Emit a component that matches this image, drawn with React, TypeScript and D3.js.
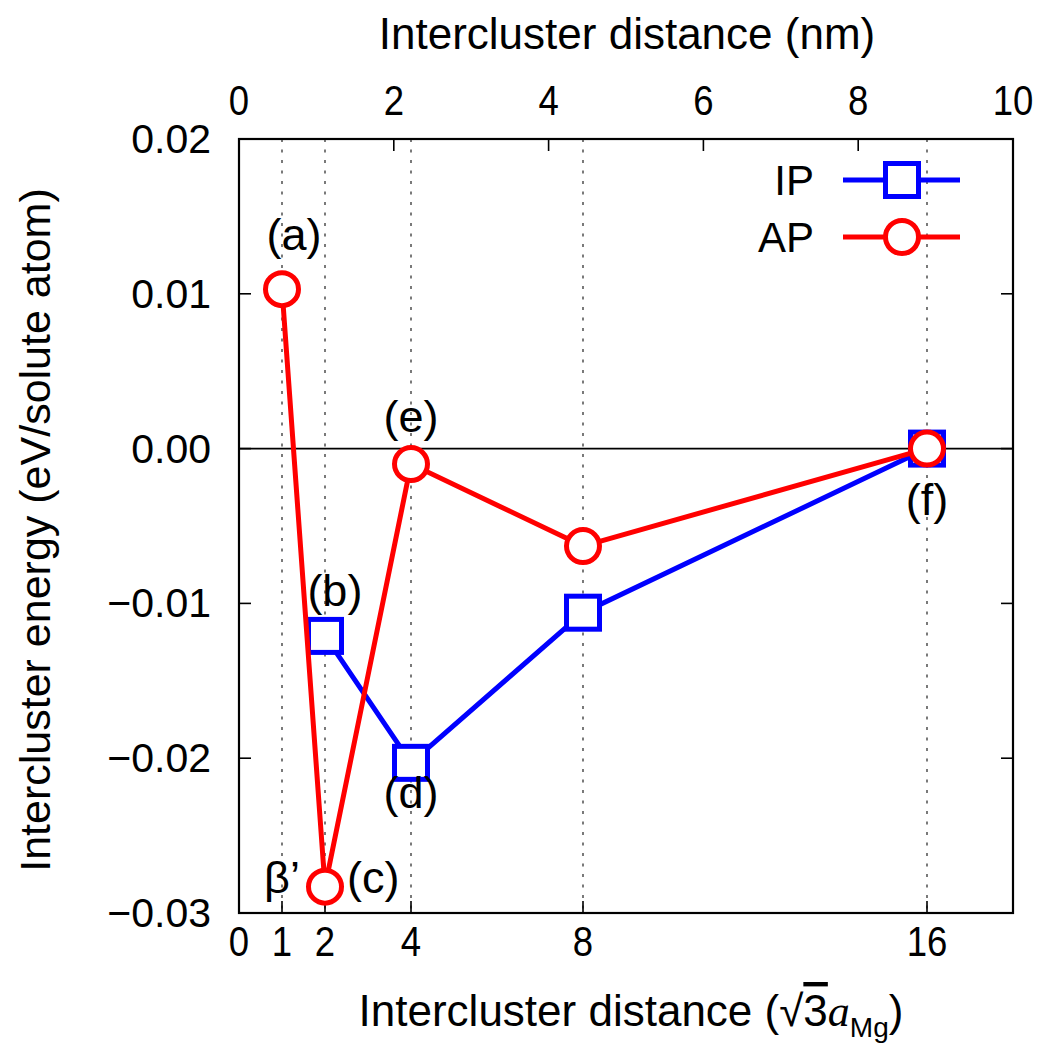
import React, { useEffect, useRef } from 'react';
import * as d3 from 'd3';

// x in units of sqrt(3)*a_Mg, y in eV/solute atom
const ipX = [2, 4, 8, 16];
const ipY = [-0.0121, -0.0203, -0.0106, 0.0];
const apX = [1, 2, 4, 8, 16];
const apY = [0.0103, -0.0283, -0.001, -0.0063, 0.0];

const bottomTicks = [0, 1, 2, 4, 8, 16];
const gridTicks = [1, 2, 4, 8, 16];
const topTicks = [0, 2, 4, 6, 8, 10];
const yTicks = [0.02, 0.01, 0.0, -0.01, -0.02, -0.03];
const yTickLabels = ['0.02', '0.01', '0.00', '\u22120.01', '\u22120.02', '\u22120.03'];

// point annotations, placed at data coordinates (text centre, baseline)
const annoText = ['(a)', '(b)', '(c)', '\u03b2\u2019', '(d)', '(e)', '(f)'];
const annoX = [1.28, 2.23, 3.12, 1.0, 4.0, 4.0, 16.0];
const annoY = [0.0128, -0.0102, -0.0287, -0.0287, -0.0232, 0.0011, -0.0043];

const FONT = '"Liberation Sans", Arial, Helvetica, sans-serif';

const App = () => {
  const ref = useRef(null);

  useEffect(() => {
    draw();
  }, []);

  function draw() {
    const svg = d3.select(ref.current);
    svg.selectAll('*').remove();

    const left = 239, right = 1013, top = 139, bottom = 913;
    const x = d3.scaleLinear().domain([0, 18]).range([left, right]);
    const xTop = d3.scaleLinear().domain([0, 10]).range([left, right]);
    const y = d3.scaleLinear().domain([-0.03, 0.02]).range([bottom, top]);
    const tick = 12;

    // dotted verticals
    svg.append('g').selectAll('line')
      .data(gridTicks)
      .enter()
      .append('line')
      .attr('x1', d => x(d)).attr('x2', d => x(d))
      .attr('y1', top).attr('y2', bottom)
      .attr('stroke', '#333')
      .attr('stroke-width', 1.3)
      .attr('stroke-dasharray', '3,7.5');

    // zero line
    svg.append('line')
      .attr('x1', left).attr('x2', right)
      .attr('y1', y(0)).attr('y2', y(0))
      .attr('stroke', '#000').attr('stroke-width', 1.6);

    // ticks
    const tg = svg.append('g').attr('stroke', '#000').attr('stroke-width', 1.6);
    yTicks.forEach(v => {
      tg.append('line').attr('x1', left).attr('x2', left + tick).attr('y1', y(v)).attr('y2', y(v));
      tg.append('line').attr('x1', right).attr('x2', right - tick).attr('y1', y(v)).attr('y2', y(v));
    });
    gridTicks.forEach(v => {
      tg.append('line').attr('x1', x(v)).attr('x2', x(v)).attr('y1', bottom).attr('y2', bottom - tick);
    });
    topTicks.forEach(v => {
      tg.append('line').attr('x1', xTop(v)).attr('x2', xTop(v)).attr('y1', top).attr('y2', top + tick);
    });

    // frame
    svg.append('rect')
      .attr('x', left).attr('y', top)
      .attr('width', right - left).attr('height', bottom - top)
      .attr('fill', 'none').attr('stroke', '#000').attr('stroke-width', 2.2);

    // tick labels
    svg.append('g').selectAll('text')
      .data(yTicks)
      .enter()
      .append('text')
      .attr('x', 211)
      .attr('y', d => y(d) + 14)
      .attr('text-anchor', 'end')
      .attr('font-family', FONT)
      .attr('font-size', 41)
      .text((d, i) => yTickLabels[i]);

    // narrow digits on the x axes
    svg.append('g').selectAll('text')
      .data(bottomTicks)
      .enter()
      .append('text')
      .attr('transform', d => `translate(${x(d)},956) scale(0.85,1)`)
      .attr('text-anchor', 'middle')
      .attr('font-family', FONT)
      .attr('font-size', 43)
      .text(d => d);

    svg.append('g').selectAll('text')
      .data(topTicks)
      .enter()
      .append('text')
      .attr('transform', d => `translate(${xTop(d)},115) scale(0.85,1)`)
      .attr('text-anchor', 'middle')
      .attr('font-family', FONT)
      .attr('font-size', 43)
      .text(d => d);

    // series
    const line = d3.line().x(d => x(d[0])).y(d => y(d[1]));
    const ipData = ipX.map((v, i) => [v, ipY[i]]);
    const apData = apX.map((v, i) => [v, apY[i]]);
    const blue = '#0000ff', red = '#ff0000';
    const sq = 33, rad = 16.5;

    svg.append('path').datum(ipData)
      .attr('d', line).attr('fill', 'none')
      .attr('stroke', blue).attr('stroke-width', 5);
    svg.append('g').selectAll('rect')
      .data(ipData)
      .enter()
      .append('rect')
      .attr('x', d => x(d[0]) - sq / 2)
      .attr('y', d => y(d[1]) - sq / 2)
      .attr('width', sq).attr('height', sq)
      .attr('fill', '#fff').attr('stroke', blue).attr('stroke-width', 5);

    svg.append('path').datum(apData)
      .attr('d', line).attr('fill', 'none')
      .attr('stroke', red).attr('stroke-width', 5);
    svg.append('g').selectAll('circle')
      .data(apData)
      .enter()
      .append('circle')
      .attr('cx', d => x(d[0]))
      .attr('cy', d => y(d[1]))
      .attr('r', rad)
      .attr('fill', '#fff').attr('stroke', red).attr('stroke-width', 5);

    // annotations
    svg.append('g').selectAll('text')
      .data(annoText)
      .enter()
      .append('text')
      .attr('x', (d, i) => x(annoX[i]))
      .attr('y', (d, i) => y(annoY[i]))
      .attr('text-anchor', 'middle')
      .attr('font-family', FONT)
      .attr('font-size', 45)
      .text(d => d);

    // legend
    const lg = svg.append('g');
    [['IP', blue, 'sq', 180], ['AP', red, 'ci', 237]].forEach(([name, col, mk, ly]) => {
      lg.append('text')
        .attr('x', 814).attr('y', ly + 15)
        .attr('text-anchor', 'end')
        .attr('font-family', FONT).attr('font-size', 42)
        .text(name);
      lg.append('line')
        .attr('x1', 843).attr('x2', 960).attr('y1', ly).attr('y2', ly)
        .attr('stroke', col).attr('stroke-width', 5);
      if (mk === 'sq') {
        lg.append('rect')
          .attr('x', 902 - sq / 2).attr('y', ly - sq / 2)
          .attr('width', sq).attr('height', sq)
          .attr('fill', '#fff').attr('stroke', col).attr('stroke-width', 5);
      } else {
        lg.append('circle')
          .attr('cx', 902).attr('cy', ly).attr('r', rad)
          .attr('fill', '#fff').attr('stroke', col).attr('stroke-width', 5);
      }
    });

    // axis titles
    svg.append('text')
      .attr('x', 627).attr('y', 49)
      .attr('text-anchor', 'middle')
      .attr('font-family', FONT).attr('font-size', 44)
      .text('Intercluster distance (nm)');

    svg.append('text')
      .attr('transform', 'translate(50,530) rotate(-90)')
      .attr('text-anchor', 'middle')
      .attr('font-family', FONT).attr('font-size', 43)
      .text('Intercluster energy (eV/solute atom)');

    const bt = svg.append('text')
      .attr('x', 631).attr('y', 1026)
      .attr('text-anchor', 'middle')
      .attr('font-family', FONT).attr('font-size', 44);
    bt.append('tspan').text('Intercluster distance (\u221a');
    bt.append('tspan').style('text-decoration', 'overline').text('3');
    bt.append('tspan')
      .attr('font-family', '"Liberation Serif", "Times New Roman", serif')
      .attr('font-style', 'italic')
      .text('a');
    bt.append('tspan').attr('font-size', 28).attr('dy', 11).text('Mg');
    bt.append('tspan').attr('dy', -11).text(')');
  }

  return (
    <svg
      ref={ref}
      width={1050}
      height={1051}
      style={{ position: 'absolute', left: 0, top: 0, background: '#fff' }}
    ></svg>
  );
};

export default App;
